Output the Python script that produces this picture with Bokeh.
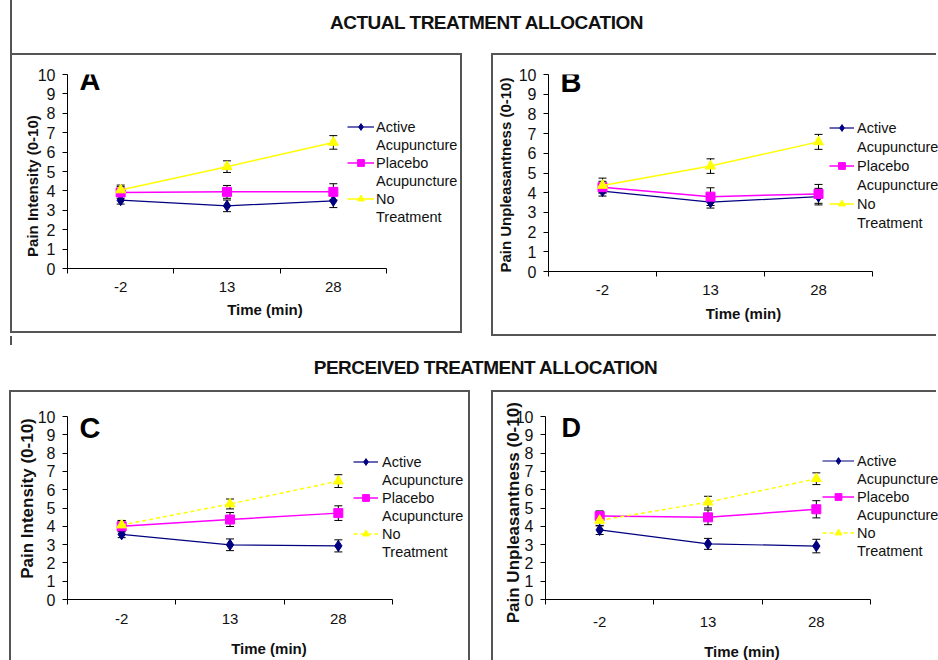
from bokeh.plotting import figure
from bokeh.models import (Range1d, FixedTicker, Whisker, TeeHead, ColumnDataSource,
                          Legend, LegendItem, Label, Div, Spacer)
from bokeh.layouts import column, row
from bokeh.embed import file_html
from bokeh.resources import INLINE

# ---------------- data ----------------
times = ["-2", "13", "28"]
y_ticks = [0, 1, 2, 3, 4, 5, 6, 7, 8, 9, 10]
series_labels = [("Active", "Acupuncture"), ("Placebo", "Acupuncture"), ("No", "Treatment")]

# Panel A: actual allocation, pain intensity
a_active = [3.52, 3.23, 3.49]
a_active_err = [0.20, 0.30, 0.35]
a_placebo = [3.92, 3.95, 3.95]
a_placebo_err = [0.30, 0.33, 0.42]
a_none = [4.05, 5.25, 6.50]
a_none_err = [0.25, 0.30, 0.35]

# Panel B: actual allocation, pain unpleasantness
b_active = [4.08, 3.52, 3.80]
b_active_err = [0.25, 0.30, 0.42]
b_placebo = [4.28, 3.80, 3.94]
b_placebo_err = [0.30, 0.45, 0.48]
b_none = [4.37, 5.35, 6.58]
b_none_err = [0.37, 0.37, 0.38]

# Panel C: perceived allocation, pain intensity
c_active = [3.56, 2.99, 2.93]
c_active_err = [0.18, 0.32, 0.33]
c_placebo = [4.00, 4.37, 4.72]
c_placebo_err = [0.30, 0.38, 0.40]
c_none = [4.07, 5.22, 6.47]
c_none_err = [0.25, 0.27, 0.35]

# Panel D: perceived allocation, pain unpleasantness
d_active = [3.80, 3.04, 2.92]
d_active_err = [0.25, 0.30, 0.37]
d_placebo = [4.56, 4.49, 4.93]
d_placebo_err = [0.28, 0.40, 0.47]
d_none = [4.32, 5.32, 6.60]
d_none_err = [0.30, 0.32, 0.32]

FONT = "Liberation Sans"
NAVY = "#000080"
MAGENTA = "#FF00FF"
YELLOW = "#FFFF00"
NBSP = "\u00a0"

positions = [i + 0.5 for i in range(len(times))]
boundaries = [float(i) for i in range(len(times) + 1)]


def make_panel(letter, ylabel, series, cfg):
    W, H = cfg["size"]
    bl, br, bt, bb = cfg["borders"]
    axis_px = cfg["axis_px"]
    frame_px = W - bl - br
    x_end = len(times) * frame_px / axis_px
    p = figure(width=W, height=H, x_range=Range1d(0, x_end), y_range=Range1d(0, 10),
               output_backend="svg", toolbar_location=None, margin=0,
               min_border_left=bl, min_border_right=br, min_border_top=bt, min_border_bottom=bb,
               styles=cfg["styles"])
    p.outline_line_color = None
    p.xgrid.visible = False
    p.ygrid.visible = False
    p.background_fill_color = "white"
    p.border_fill_alpha = 0

    # x axis: category labels at centres, tick marks at boundaries
    xa = p.xaxis[0]
    xa.bounds = (0, len(times))
    xa.ticker = FixedTicker(ticks=positions, minor_ticks=boundaries)
    xa.major_label_overrides = {pos: t for pos, t in zip(positions, times)}
    xa.major_tick_out = 0
    xa.major_tick_in = 0
    xa.minor_tick_out = 5
    xa.minor_tick_in = 0
    xa.minor_tick_line_color = "black"
    xa.axis_line_color = "black"
    xa.major_label_text_font = FONT
    xa.major_label_text_font_size = "15px"
    xa.major_label_text_color = "#111111"
    xa.major_label_standoff = cfg["xstand"]
    xa.axis_label = "Time (min)"
    xa.axis_label_text_font = FONT
    xa.axis_label_text_font_size = "15px"
    xa.axis_label_text_font_style = "bold"
    xa.axis_label_text_color = "#111111"
    xa.axis_label_standoff = cfg["xlabstand"]

    ya = p.yaxis[0]
    ya.ticker = FixedTicker(ticks=y_ticks)
    ya.major_tick_out = 5
    ya.major_tick_in = 0
    ya.minor_tick_line_color = None
    ya.axis_line_color = "black"
    ya.major_label_text_font = FONT
    ya.major_label_text_font_size = "16px"
    ya.major_label_text_color = "#111111"
    ya.major_label_standoff = 7
    # non-breaking padding shifts the visible title along the axis, as in the original
    ya.axis_label = NBSP * cfg["ypad"][0] + ylabel + NBSP * cfg["ypad"][1]
    ya.axis_label_text_font = FONT
    ya.axis_label_text_font_size = cfg["ylabsize"]
    ya.axis_label_text_font_style = "bold"
    ya.axis_label_text_color = "#111111"
    ya.axis_label_standoff = cfg["ylabstand"]

    styles = [
        dict(color=NAVY, marker="diamond", size=11, lw=1.2, dash="solid"),
        dict(color=MAGENTA, marker="square", size=9, lw=1.5, dash="solid"),
        dict(color=YELLOW, marker="triangle", size=10, lw=1.5, dash=cfg["none_dash"]),
    ]
    items = []
    for (vals, errs), st, (l1, l2) in zip(series, styles, series_labels):
        src = ColumnDataSource(dict(x=positions, y=vals,
                                    upper=[v + e for v, e in zip(vals, errs)],
                                    lower=[v - e for v, e in zip(vals, errs)]))
        ln = p.line("x", "y", source=src, line_color=st["color"], line_width=st["lw"],
                    line_dash=st["dash"])
        p.add_layout(Whisker(base="x", upper="upper", lower="lower", source=src,
                             line_color="black", line_width=1,
                             upper_head=TeeHead(size=8, line_color="black", line_width=1),
                             lower_head=TeeHead(size=8, line_color="black", line_width=1)))
        sc = p.scatter("x", "y", source=src, marker=st["marker"], size=st["size"],
                       fill_color=st["color"], line_color=st["color"])
        dummy = p.line(x=[], y=[], line_alpha=0)
        items.append(LegendItem(label=l1, renderers=[ln, sc]))
        items.append(LegendItem(label=l2, renderers=[dummy]))

    lg = Legend(items=items, location=cfg["legend_loc"], margin=0, padding=0,
                spacing=cfg["legend_spacing"], label_height=17, glyph_height=17,
                glyph_width=cfg["glyph_w"], label_standoff=cfg["label_standoff"],
                label_text_font=FONT, label_text_font_size="14.5px",
                label_text_color="#111111",
                border_line_color=None, background_fill_alpha=0)
    p.add_layout(lg, "center")

    p.add_layout(Label(x=cfg["letter_xy"][0], y=cfg["letter_xy"][1], x_units="screen",
                       y_units="screen", text=letter, text_font=FONT,
                       text_font_size=cfg.get("letter_size", "29px"),
                       text_font_style="bold", text_color="black",
                       text_baseline="alphabetic"))
    return p


BORDER = "2px solid #555555"
box_full = {"border": BORDER, "box-sizing": "border-box"}
box_no_right = {"border-left": BORDER, "border-top": BORDER, "border-bottom": BORDER,
                "box-sizing": "border-box"}
box_cut = {"border-left": BORDER, "border-top": BORDER, "border-right": BORDER,
           "box-sizing": "border-box"}
box_top_left = {"border-left": BORDER, "border-top": BORDER, "box-sizing": "border-box"}

pA = make_panel("A", "Pain Intensity (0-10)",
                [(a_active, a_active_err), (a_placebo, a_placebo_err), (a_none, a_none_err)],
                dict(size=(452, 280), borders=(55, 2, 18, 67), axis_px=319,
                     styles=dict(box_full), ylabsize="15px", ypad=(0, 7),
                     xstand=8, xlabstand=6, ylabstand=-6, none_dash="solid",
                     legend_loc=(280, 43), legend_spacing=1, glyph_w=27, label_standoff=2,
                     letter_xy=(12, 189)))
pB = make_panel("B", "Pain  Unpleasantness (0-10)",
                [(b_active, b_active_err), (b_placebo, b_placebo_err), (b_none, b_none_err)],
                dict(size=(445, 283), borders=(55, 0, 19, 67), axis_px=324,
                     styles=dict(box_no_right), ylabsize="15px", ypad=(0, 0),
                     xstand=8, xlabstand=7, ylabstand=2, none_dash="solid",
                     legend_loc=(281, 40), legend_spacing=2, glyph_w=25, label_standoff=3,
                     letter_xy=(12, 190)))
pC = make_panel("C", "Pain Intensity (0-10)",
                [(c_active, c_active_err), (c_placebo, c_placebo_err), (c_none, c_none_err)],
                dict(size=(461, 270), borders=(56, 2, 18, 62), axis_px=325,
                     styles=dict(box_cut), ylabsize="17px", ypad=(4, 0),
                     xstand=9, xlabstand=13, ylabstand=-2, none_dash="4 3",
                     legend_loc=(286, 39), legend_spacing=1, glyph_w=25, label_standoff=4,
                     letter_xy=(12, 172)))
pD = make_panel("D", "Pain  Unpleasantness (0-10)",
                [(d_active, d_active_err), (d_placebo, d_placebo_err), (d_none, d_none_err)],
                dict(size=(445, 270), borders=(52, 0, 24, 56), axis_px=325,
                     styles=dict(box_top_left), ylabsize="17px", ypad=(0, 1),
                     xstand=12, xlabstand=13, ylabstand=-10, none_dash="4 3",
                     legend_loc=(277, 40), legend_spacing=1, glyph_w=32, label_standoff=3,
                     letter_xy=(16, 172), letter_size="27px"))

title_style = ("font-family:'Liberation Sans',Arial,sans-serif;font-weight:bold;"
               "font-size:19px;letter-spacing:-0.5px;color:#111;line-height:19px;"
               "text-align:center;box-sizing:border-box;display:block;overflow:hidden;")
t1 = Div(text=('<div style="width:928px;height:53px;margin-left:10px;border-left:2px solid #555;'
               'padding-top:13px;padding-left:23px;' + title_style + '">'
               'ACTUAL TREATMENT ALLOCATION</div>'),
         width=938, height=53, margin=0, styles={"overflow": "hidden"})
t2 = Div(text=('<div style="margin-left:10px;width:2px;height:9px;background:#555;"></div>'
               '<div style="width:938px;height:45px;padding-top:13px;padding-left:33px;'
               + title_style + '">PERCEIVED TREATMENT ALLOCATION</div>'),
         width=938, height=54, margin=0, styles={"overflow": "hidden"})

layout = column(
    t1,
    row(Spacer(width=10, height=283, margin=0), pA, Spacer(width=29, height=283, margin=0), pB,
        margin=0, spacing=0),
    t2,
    row(Spacer(width=9, height=270, margin=0), pC, Spacer(width=21, height=270, margin=0), pD,
        margin=0, spacing=0),
    margin=0, spacing=0,
)

with open("out.html", "w") as f:
    f.write(file_html(layout, INLINE))
